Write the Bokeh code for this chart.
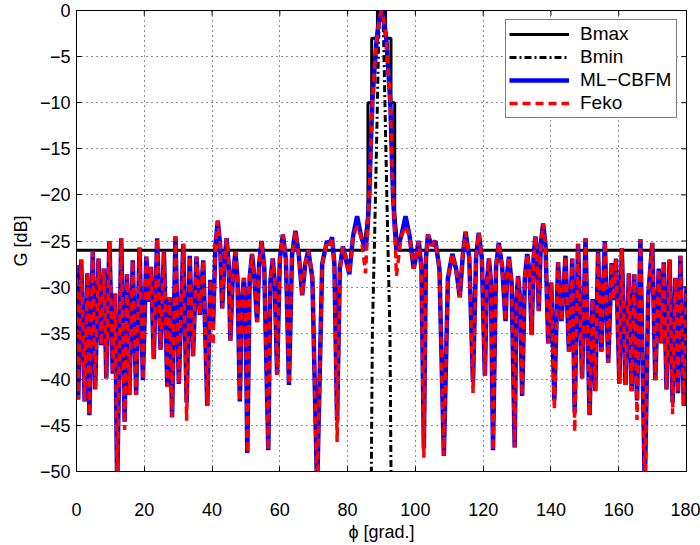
from bokeh.plotting import figure
from bokeh.models import Range1d, FixedTicker, Legend, LegendItem
from bokeh.embed import file_html
from bokeh.resources import INLINE

# ---------------- data ----------------
# ML-CBFM pattern, left side lobes (dense region)
phi_left = [
    0.0, 0.5, 1.4, 2.4, 3.2, 3.8, 4.8, 5.5, 6.5, 7.3,
    8.1, 8.8, 9.7, 10.7, 11.4, 12.0, 13.2, 14.2, 14.9, 15.6,
    16.6, 17.6, 18.6, 19.6, 20.6, 21.3, 22.0, 22.8, 23.8, 24.8,
    25.8, 26.8, 27.5, 28.2, 29.2, 30.2, 31.5, 32.5, 33.4, 34.4,
    35.4, 36.4, 37.4, 38.6, 39.5,
]
db_left = [
    -27.6, -42.2, -27.0, -42.4, -28.5, -43.9, -26.2, -41.1, -26.9, -36.3,
    -28.0, -39.9, -25.0, -39.4, -30.7, -52.0, -24.7, -44.6, -28.6, -41.7,
    -27.1, -41.7, -25.7, -40.1, -26.7, -31.6, -27.8, -37.8, -24.7, -36.8,
    -26.2, -40.8, -31.1, -44.1, -24.5, -40.5, -25.3, -42.5, -26.6, -37.5,
    -26.7, -33.0, -27.1, -42.9, -29.2,
]
# middle part: wider lobes and the main beam
phi_mid = [
    40.3, 41.0, 41.7, 42.4, 43.0, 43.6, 44.3, 44.9, 45.4, 46.1,
    46.9, 47.5, 48.2, 48.8, 49.4, 49.9, 50.4, 51.1, 51.8, 52.5,
    53.3, 53.9, 54.6, 55.4, 56.6, 57.2, 57.9, 58.5, 59.2, 60.0,
    60.9, 61.8, 62.7, 63.6, 64.6, 65.6, 66.6, 67.5, 68.4, 69.6,
    71.0, 72.5, 73.9, 74.7, 75.4, 76.1, 76.9, 77.7, 78.6, 79.5,
    80.5, 81.6, 82.8, 84.0, 85.3, 85.9, 86.4, 86.8, 87.3, 87.8,
    88.6, 89.4, 90.0, 90.6, 91.4, 92.1, 92.6, 93.0, 93.4, 93.9,
    94.4, 95.8, 97.1, 98.3, 99.5, 100.3, 101.0, 101.8, 102.5, 103.1,
    103.7, 104.8, 105.9, 107.1, 108.4, 109.6, 110.9, 112.0, 113.1, 114.0,
    114.8, 115.9, 117.0, 117.9, 118.7, 119.6, 120.5, 121.1, 121.7, 122.3,
    122.9, 123.8, 124.6, 125.6, 126.6, 127.1, 127.6, 128.4, 129.3, 129.8,
    130.3, 130.9, 131.5, 132.3, 133.0, 133.7, 134.3, 134.9, 135.4, 135.9,
    136.4, 137.0, 137.7, 138.4, 139.2,
]
db_mid = [
    -34.0, -25.5, -22.8, -25.5, -32.3, -27.5, -24.7, -27.5, -35.8, -29.0,
    -26.2, -29.0, -42.4, -31.5, -29.0, -32.0, -48.0, -29.0, -26.4, -29.0,
    -33.8, -27.5, -25.0, -27.8, -47.7, -29.5, -26.9, -29.5, -39.5, -27.0,
    -24.3, -27.0, -40.6, -26.5, -23.9, -26.5, -30.9, -27.5, -26.0, -29.0,
    -52.0, -27.5, -25.0, -25.4, -24.6, -27.5, -44.5, -28.0, -25.6, -27.0,
    -28.6, -24.5, -22.3, -24.5, -26.0, -23.5, -20.0, -15.0, -10.0, -7.0,
    -3.0, -0.8, 0.0, -0.8, -3.0, -7.0, -10.0, -15.0, -20.0, -23.5,
    -26.0, -24.5, -22.3, -24.5, -28.0, -26.5, -25.0, -28.0, -47.5, -27.0,
    -24.3, -25.5, -25.0, -28.0, -48.3, -29.0, -26.4, -28.0, -31.1, -26.5,
    -24.0, -26.8, -40.3, -26.8, -24.1, -26.8, -39.6, -29.5, -26.9, -29.5,
    -47.7, -27.8, -25.2, -27.8, -33.7, -28.5, -26.7, -29.5, -47.4, -31.5,
    -28.8, -31.5, -41.8, -29.0, -26.4, -28.5, -35.2, -26.8, -24.5, -26.5,
    -32.6, -25.3, -23.1, -25.5, -36.1,
]
# right side lobes (dense region)
phi_right = [
    140.1, 141.0, 142.1, 143.1, 144.3, 145.3, 146.3, 147.0, 148.0, 149.2,
    150.2, 151.4, 152.3, 153.1, 153.9, 154.9, 155.9, 156.9, 157.9, 158.5,
    159.2, 160.2, 160.9, 162.0, 163.0, 163.8, 164.6, 165.4, 166.4, 167.7,
    168.7, 169.9, 170.8, 171.8, 172.6, 173.3, 174.1, 175.0, 175.9, 176.7,
    177.5, 178.2, 179.2, 180.0,
]
db_right = [
    -29.5, -42.3, -27.3, -33.7, -26.6, -37.0, -26.9, -43.6, -25.3, -39.9,
    -24.7, -43.9, -31.3, -41.3, -26.2, -37.0, -25.0, -38.2, -27.4, -31.4,
    -26.9, -40.5, -25.8, -40.6, -28.5, -41.3, -28.6, -42.3, -24.8, -52.0,
    -30.9, -25.2, -40.1, -28.0, -36.1, -27.3, -41.1, -27.0, -42.5, -29.0,
    -41.5, -26.6, -42.9, -29.9,
]
# Feko follows ML-CBFM except at these angles
feko_diff_phi = [14.2, 32.5, 40.3, 76.9, 82.8, 85.3, 94.4, 97.1, 102.5, 117.0, 141.0, 147.0, 165.4, 175.9]
feko_diff_db = [-45.5, -44.5, -36.3, -46.8, -23.4, -28.5, -28.8, -23.4, -48.5, -41.5, -43.3, -45.7, -44.4, -43.8]

bmax_phi = [0, 84.8, 86.0, 86.0, 87.1, 87.1, 88.8, 88.8, 91.2, 91.2, 92.8, 92.8, 93.9, 93.9, 94.9, 180]
bmax_db = [-26, -26, -22, -10, -10, -3, -3, 0, 0, -3, -3, -10, -10, -22, -26, -26]

bmin_phi = [86.8, 87.3, 88.0, 88.6, 89.2, 89.6, 90.2, 90.6, 91.2, 91.8, 92.5, 93.0]
bmin_db = [-60, -35, -24, -13.5, -2.5, 0, 0, -2.5, -13.5, -24, -35, -60]

x_ticks = [0, 20, 40, 60, 80, 100, 120, 140, 160, 180]
y_ticks = [-50, -45, -40, -35, -30, -25, -20, -15, -10, -5, 0]

series_labels = ["Bmax", "Bmin", "ML\u2212CBFM", "Feko"]

# --------------------------------------------------------------------------
phi_deg = phi_left + phi_mid + phi_right
ml_cbfm_db = db_left + db_mid + db_right
fix = dict(zip(feko_diff_phi, feko_diff_db))
feko_db = [fix.get(ph, g) for ph, g in zip(phi_deg, ml_cbfm_db)]

FONT = "Liberation Sans"
FS = "18px"

p = figure(width=700, height=545, output_backend="svg", toolbar_location=None,
           x_range=Range1d(0, 180), y_range=Range1d(-50, 0),
           min_border_left=76, min_border_right=14, min_border_top=10,
           min_border_bottom=74)
p.background_fill_color = "white"
p.border_fill_color = "white"
p.outline_line_color = "black"
p.outline_line_width = 1

r_bmax = p.line(bmax_phi, bmax_db, line_color="black", line_width=3)
r_bmin = p.line(bmin_phi, bmin_db, line_color="black", line_width=3, line_dash="7 3 2 3")
r_ml = p.line(phi_deg, ml_cbfm_db, line_color="#0000ff", line_width=4.5)
r_fk = p.line(phi_deg, feko_db, line_color="#ff0000", line_width=3.5, line_dash="8 5")

def minus(v):
    return str(v).replace("-", "\u2212")

for ax in p.xaxis:
    ax.ticker = FixedTicker(ticks=x_ticks)
    ax.major_label_overrides = {v: minus(v) for v in x_ticks}
    ax.axis_label = "\u03d5 [grad.]"
for ax in p.yaxis:
    ax.ticker = FixedTicker(ticks=y_ticks)
    ax.major_label_overrides = {v: minus(v) for v in y_ticks}
    ax.axis_label = "G [dB]"

for ax in p.xaxis + p.yaxis:
    ax.major_tick_in = 5
    ax.major_tick_out = 0
    ax.minor_tick_line_color = None
    ax.axis_line_color = "black"
    ax.major_tick_line_color = "black"
    ax.major_label_text_font = FONT
    ax.major_label_text_font_size = FS
    ax.major_label_text_color = "black"
    ax.axis_label_text_font = FONT
    ax.axis_label_text_font_size = FS
    ax.axis_label_text_font_style = "normal"
    ax.axis_label_text_color = "black"

p.xaxis.major_label_standoff = 31
p.xaxis.axis_label_standoff = 3
p.yaxis.major_label_standoff = 6
p.yaxis.axis_label_standoff = 6

# inward ticks on the top and right edges of the box
tick_len_y = 5 * 50 / 461.0
tick_len_x = 5 * 180 / 610.0
inner_x = x_ticks[1:-1]
inner_y = y_ticks[1:-1]
p.segment(x0=inner_x, y0=[0] * len(inner_x), x1=inner_x, y1=[-tick_len_y] * len(inner_x),
          line_color="black", line_width=1)
p.segment(x0=[180] * len(inner_y), y0=inner_y, x1=[180 - tick_len_x] * len(inner_y), y1=inner_y,
          line_color="black", line_width=1)

p.xgrid.ticker = FixedTicker(ticks=x_ticks)
p.ygrid.ticker = FixedTicker(ticks=y_ticks)
for g in (p.xgrid[0], p.ygrid[0]):
    g.grid_line_color = "black"
    g.grid_line_alpha = 0.9
    g.grid_line_dash = "1 4"
    g.grid_line_width = 1

legend = Legend(items=[LegendItem(label=series_labels[0], renderers=[r_bmax]),
                       LegendItem(label=series_labels[1], renderers=[r_bmin]),
                       LegendItem(label=series_labels[2], renderers=[r_ml]),
                       LegendItem(label=series_labels[3], renderers=[r_fk])],
                location="top_right")
legend.border_line_color = "black"
legend.border_line_width = 1
legend.background_fill_color = "white"
legend.background_fill_alpha = 1
legend.label_text_font = FONT
legend.label_text_font_size = "19px"
legend.label_text_color = "black"
legend.glyph_width = 60
legend.glyph_height = 22
legend.label_height = 22
legend.label_width = 93
legend.label_standoff = 11
legend.spacing = 1
legend.padding = 3
legend.margin = 9
p.add_layout(legend, "center")

open("out.html", "w").write(file_html(p, INLINE))
